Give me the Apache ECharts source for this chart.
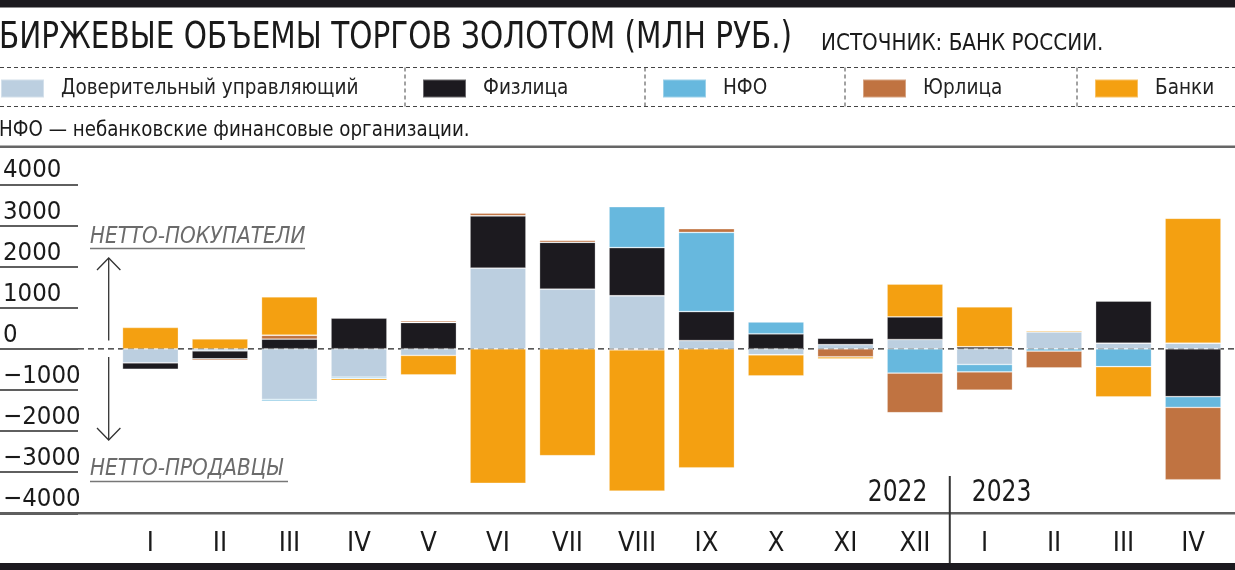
<!DOCTYPE html>
<html>
<head>
<meta charset="utf-8">
<script src="https://cdn.jsdelivr.net/npm/echarts@6/dist/echarts.min.js"></script>
<style>
html,body{margin:0;padding:0;background:#fff;}
#c{width:1235px;height:570px;}
</style>
</head>
<body>
<div id="c"></div>
<script>
// ---- data ----
const months = ['I','II','III','IV','V','VI','VII','VIII','IX','X','XI','XII','I','II','III','IV'];
const seriesNames = ['Доверительный управляющий','Физлица','НФО','Юрлица','Банки'];
const trustee   = [-340, -50, -1230, -690, -160, 1960, 1450, 1290, 200, -145, 100, 225, -380, 410, 135, 135];
const persons   = [-160, -195, 235, 745, 640, 1275, 1140, 1170, 705, 365, 160, 550, 50, 0, 1025, -1165];
const nfo       = [0, 0, -40, -35, 0, 0, 0, 995, 1925, 290, 0, -590, -180, -55, -435, -260];
const companies = [0, -40, 95, 0, 40, 65, 45, -25, 90, 0, -195, -965, -445, -410, 0, -1760];
const banks     = [520, 240, 935, -45, -475, -3270, -2600, -3435, -2895, -515, -50, 800, 970, 35, -735, 3040];
const yTicks = {min: -4000, max: 4000, interval: 1000};
const years = ['2022', '2023'];
const titleText = 'БИРЖЕВЫЕ ОБЪЕМЫ ТОРГОВ ЗОЛОТОМ (МЛН РУБ.)';
const sourceText = 'ИСТОЧНИК: БАНК РОССИИ.';
const noteText = 'НФО — небанковские финансовые организации.';
const buyersText = 'НЕТТО-ПОКУПАТЕЛИ';
const sellersText = 'НЕТТО-ПРОДАВЦЫ';

// ---- style ----
const FONT = "'Liberation Sans Narrow','DejaVu Sans Condensed','Roboto Condensed',sans-serif";
const colors = ['#bccfe0', '#1c1a1f', '#67b8de', '#c07341', '#f4a011'];
const seriesData = [trustee, persons, nfo, companies, banks];
const legendLefts = [0, 422, 662, 862, 1094];
const GRID = {left: 114.7, right: 7.2, top: 184.3, bottom: 56.7};

const chart = echarts.init(document.getElementById('c'), null, {renderer: 'canvas'});

const option = {
  animation: false,
  backgroundColor: '#fff',
  textStyle: {fontFamily: FONT},
  legend: seriesNames.map((n, i) => ({
    data: [n], left: legendLefts[i], top: 78, padding: 0,
    itemWidth: 43, itemHeight: 18, icon: 'rect', selectedMode: false,
    textStyle: {fontFamily: FONT, fontSize: 20.5, color: '#222', padding: [0, 0, 0, 12]}
  })),
  grid: [
    {left: GRID.left, right: GRID.right, top: GRID.top, bottom: GRID.bottom},
    {left: 0, width: 78, top: GRID.top, bottom: GRID.bottom}
  ],
  xAxis: [
    {type: 'category', data: months, gridIndex: 0,
     axisLine: {show: false}, axisTick: {show: false},
     axisLabel: {fontFamily: FONT, fontSize: 27, color: '#1a1a1a', margin: 17, interval: 0}},
    {type: 'value', gridIndex: 1, show: false, min: 0, max: 1}
  ],
  yAxis: [
    {type: 'value', gridIndex: 0, min: yTicks.min, max: yTicks.max, interval: yTicks.interval,
     axisLine: {show: false}, axisTick: {show: false}, splitLine: {show: false},
     axisLabel: {fontFamily: FONT, fontSize: 25.5, color: '#1a1a1a', align: 'left',
       margin: GRID.left - 2, verticalAlign: 'bottom', lineHeight: 27,
       formatter: v => v < 0 ? '−' + Math.abs(v) : String(v)}},
    {type: 'value', gridIndex: 1, min: yTicks.min, max: yTicks.max, interval: yTicks.interval,
     axisLine: {show: false}, axisTick: {show: false}, axisLabel: {show: false},
     splitLine: {show: true, lineStyle: {color: '#2a2a2a', width: 1.5}}}
  ],
  series: seriesNames.map((n, i) => ({
    name: n, type: 'bar', stack: 'all', data: seriesData[i],
    xAxisIndex: 0, yAxisIndex: 0, barCategoryGap: '19.5%', z: 3,
    itemStyle: {color: colors[i], borderColor: 'rgba(255,255,255,0.35)', borderWidth: 0.8}
  }))
};
chart.setOption(option);

// decorations positioned through the axes
const y0 = chart.convertToPixel({yAxisIndex: 0}, 0);
const yMin = chart.convertToPixel({yAxisIndex: 0}, yTicks.min);
const xSep = (chart.convertToPixel({xAxisIndex: 0}, 11) + chart.convertToPixel({xAxisIndex: 0}, 12)) / 2;
const W = 1235;
const dashC = '#444';
function txt(t, x, y, font, sx, fill) {
  return {type: 'text', x: x, y: y, scaleX: sx, z: 8,
    style: {text: t, font: font, fill: fill || '#1a1a1a', textVerticalAlign: 'top'}};
}
const g = [
  {type: 'rect', shape: {x: 0, y: 0, width: W, height: 7.5}, style: {fill: '#1c1a1f'}, z: 10},
  {type: 'rect', shape: {x: 0, y: 563, width: W, height: 7}, style: {fill: '#1c1a1f'}, z: 10},
  txt(titleText, -1, 20, '37px ' + FONT, 0.886),
  txt(sourceText, 821, 33, '23px ' + FONT, 0.965),
  txt(noteText, -1, 120, '21px ' + FONT, 0.967),
  {type: 'line', shape: {x1: 0, y1: 67.5, x2: W, y2: 67.5}, style: {stroke: dashC, lineWidth: 1, lineDash: [4, 3]}},
  {type: 'line', shape: {x1: 0, y1: 106.5, x2: W, y2: 106.5}, style: {stroke: dashC, lineWidth: 1, lineDash: [4, 3]}},
  {type: 'rect', shape: {x: 0, y: 145.5, width: W, height: 2.5}, style: {fill: '#666'}},
  // zero dashed line
  {type: 'line', shape: {x1: 78, y1: y0, x2: W, y2: y0}, style: {stroke: '#222', lineWidth: 1.3, lineDash: [6, 4]}, z: 0},
  // bottom axis line
  {type: 'line', shape: {x1: 0, y1: yMin, x2: W, y2: yMin}, style: {stroke: '#5f5f5f', lineWidth: 2.5}, z: 5},
  // year separator
  {type: 'line', shape: {x1: xSep, y1: 476, x2: xSep, y2: 564}, style: {stroke: '#333', lineWidth: 2}, z: 6},
  txt(years[0], xSep - 82, 477, '31px ' + FONT, 0.84),
  txt(years[1], xSep + 22, 477, '31px ' + FONT, 0.84),
  // net labels
  txt(buyersText, 90, 226, 'italic 23px ' + FONT, 0.965, '#6b6b6b'),
  {type: 'line', shape: {x1: 90, y1: 248.5, x2: 305, y2: 248.5}, style: {stroke: '#777', lineWidth: 1.5}},
  txt(sellersText, 90, 458, 'italic 23px ' + FONT, 0.965, '#6b6b6b'),
  {type: 'line', shape: {x1: 90, y1: 481.5, x2: 288, y2: 481.5}, style: {stroke: '#777', lineWidth: 1.5}},
  // arrows
  {type: 'line', shape: {x1: 108.7, y1: 258, x2: 108.7, y2: 340.5}, style: {stroke: '#333', lineWidth: 1.3}},
  {type: 'line', shape: {x1: 108.7, y1: 357, x2: 108.7, y2: 440}, style: {stroke: '#333', lineWidth: 1.3}},
  {type: 'polyline', shape: {points: [[97, 270], [108.7, 258], [120.4, 270]]}, style: {stroke: '#333', lineWidth: 1.3, fill: null}},
  {type: 'polyline', shape: {points: [[97, 428], [108.7, 440], [120.4, 428]]}, style: {stroke: '#333', lineWidth: 1.3, fill: null}}
];
[405, 645, 845, 1077].forEach(x => g.push({type: 'line', shape: {x1: x, y1: 67.5, x2: x, y2: 106.5},
  style: {stroke: dashC, lineWidth: 1, lineDash: [4, 3]}}));
chart.setOption({graphic: g});
</script>
</body>
</html>
